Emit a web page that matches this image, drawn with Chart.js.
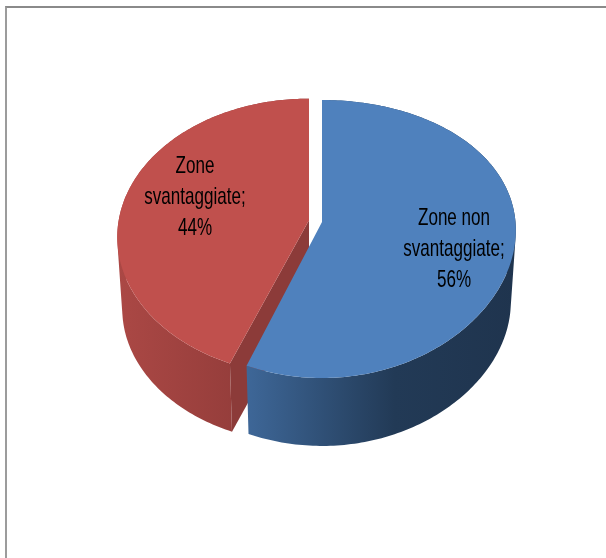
<!DOCTYPE html>
<html>
<head>
<meta charset="utf-8">
<style>
  html, body { margin: 0; padding: 0; background: #fff; }
  #frame { position: absolute; left: 0; top: 0; width: 606px; height: 558px; overflow: hidden; }
  #frame::before { content: ""; position: absolute; left: 5px; top: 6px; width: 620px; height: 600px;
    border-top: 2px solid #8a8a8a; border-left: 2px solid #9c9c9c; }
  canvas { position: absolute; left: 0; top: 0; }
</style>
<script src="https://cdn.jsdelivr.net/npm/chart.js@4"></script>
</head>
<body>
<div id="frame"><canvas id="pie" width="606" height="558"></canvas></div>
<script>
const categories = ["Zone non svantaggiate", "Zone svantaggiate"];
const shares = [56, 44];
const faceColors = ["#4f81bd", "#c0504d"];
const sliceOffsets = [0, 53];

// side wall shading, left to right across each slice
const wallStops = [
    [[0, "#3e6798"], [0.55, "#223a56"], [1, "#1f344e"]],
    [[0, "#ab4845"], [1, "#883735"]]
];
const cutColor = "#8c3b39";
const labelCenters = [[454, 225], [195, 173]];

// tilted disc: far side shrinks, near side grows
const tilt = { k: 0.1224, yScale: 0.7075, depth: 72, bottomScale: 0.974 };
const sideTilt = [0.06, 0.1224];
const sideScale = [1, 0.985];

function project(arc, i, shiftX, shiftY, dx, dy, low) {
    const r = arc.outerRadius;
    const yy = shiftY + dy;
    const w = 1 - tilt.k * yy / r;
    const wx = 1 - sideTilt[i] * yy / r;
    const s = low ? tilt.bottomScale : 1;
    return [
        arc.x + shiftX + s * sideScale[i] * dx / wx,
        arc.y + (low ? tilt.depth : 0) + s * tilt.yScale * yy / w
    ];
}

function rimPoints(arc, i, shiftX, shiftY, low) {
    const pts = [];
    const n = Math.ceil((arc.endAngle - arc.startAngle) / (Math.PI / 180));
    for (let j = 0; j <= n; j++) {
        const a = arc.startAngle + (arc.endAngle - arc.startAngle) * j / n;
        pts.push(project(arc, i, shiftX, shiftY, arc.outerRadius * Math.cos(a), arc.outerRadius * Math.sin(a), low));
    }
    return pts;
}

function fillPoly(ctx, pts, fill) {
    ctx.beginPath();
    pts.forEach((p, j) => j ? ctx.lineTo(p[0], p[1]) : ctx.moveTo(p[0], p[1]));
    ctx.closePath();
    ctx.fillStyle = fill;
    ctx.fill();
}

// wall as one path of per-degree quads, all wound the same way so they don't cancel
function fillWall(ctx, top, low, fill) {
    ctx.beginPath();
    for (let j = 0; j < top.length - 1; j++) {
        let quad = [top[j], top[j + 1], low[j + 1], low[j]];
        let area = 0;
        quad.forEach((p, n) => {
            const q = quad[(n + 1) % 4];
            area += p[0] * q[1] - q[0] * p[1];
        });
        if (area < 0) quad = quad.reverse();
        quad.forEach((p, n) => n ? ctx.lineTo(p[0], p[1]) : ctx.moveTo(p[0], p[1]));
        ctx.closePath();
    }
    ctx.fillStyle = fill;
    ctx.fill();
}

const pie3d = {
    id: "pie3d",
    beforeDatasetDraw(chart, args) {
        const ctx = chart.ctx;
        // red goes first so the blue slice sits over its cut face
        [1, 0].forEach(i => {
            const el = args.meta.data[i];
            const arc = el.getProps(["x", "y", "startAngle", "endAngle", "outerRadius"], true);
            const mid = (arc.startAngle + arc.endAngle) / 2;
            const off = (el.options.offset || 0) / 4;
            const sx = Math.cos(mid) * off;
            const sy = Math.sin(mid) * off;

            const top = rimPoints(arc, i, sx, sy, false);
            const low = rimPoints(arc, i, sx, sy, true);

            const xs = low.concat(top).map(p => p[0]);
            const grad = ctx.createLinearGradient(Math.min(...xs), 0, Math.max(...xs), 0);
            wallStops[i].forEach(s => grad.addColorStop(s[0], s[1]));
            fillWall(ctx, top, low, grad);

            const apexTop = project(arc, i, sx, sy, 0, 0, false);
            const apexLow = project(arc, i, sx, sy, 0, 0, true);
            if (i === 1) {
                // cut face of the pulled-out slice, along its starting edge
                fillPoly(ctx, [apexTop, top[0], low[0], apexLow], cutColor);
            }
            fillPoly(ctx, [apexTop].concat(top), el.options.backgroundColor);
        });
        return false;
    },
    afterDatasetsDraw(chart) {
        const ctx = chart.ctx;
        ctx.fillStyle = "#000";
        ctx.textAlign = "center";
        ctx.textBaseline = "alphabetic";
        ctx.font = '24px "Liberation Sans"';
        categories.forEach((name, i) => {
            const cut = name.indexOf("svantaggiate");
            const lines = [name.slice(0, cut).trim(), name.slice(cut) + ";", shares[i] + "%"];
            lines.forEach((line, j) => {
                // the label font is a condensed one, so squeeze it sideways
                ctx.save();
                ctx.translate(labelCenters[i][0], labelCenters[i][1] + j * 31);
                ctx.scale(0.71, 1);
                ctx.fillText(line, 0, 0);
                ctx.restore();
            });
        });
    }
};

new Chart(document.getElementById("pie"), {
    type: "pie",
    data: {
        labels: categories,
        datasets: [{
            data: shares,
            backgroundColor: faceColors,
            offset: sliceOffsets,
            borderWidth: 0
        }]
    },
    options: {
        responsive: false,
        animation: false,
        events: [],
        radius: 193.5,
        layout: { padding: { left: 128, right: 90, top: 28, bottom: 142 } },
        plugins: { legend: { display: false }, tooltip: { enabled: false }, title: { display: false } }
    },
    plugins: [pie3d]
});
</script>
</body>
</html>
